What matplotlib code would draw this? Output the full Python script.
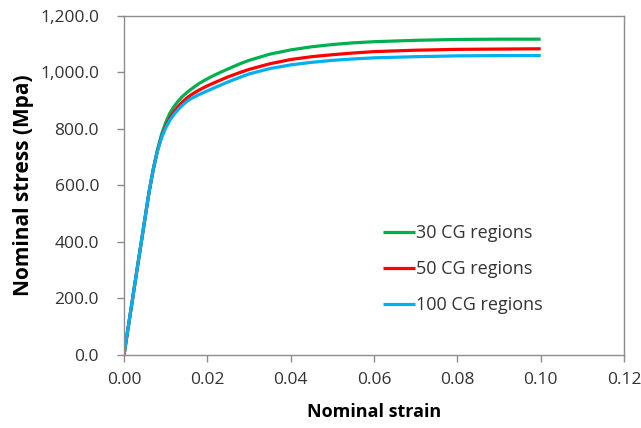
import matplotlib
matplotlib.use("Agg")
import matplotlib.pyplot as plt
from matplotlib.ticker import FuncFormatter

strain = [0.000, 0.001, 0.002, 0.003, 0.004, 0.005, 0.006, 0.007, 0.008, 0.009,
          0.010, 0.011, 0.012, 0.013, 0.014, 0.015, 0.016, 0.018, 0.020, 0.022,
          0.025, 0.028, 0.030, 0.035, 0.040, 0.045, 0.050, 0.055, 0.060, 0.070,
          0.080, 0.090, 0.100]
stress_30 = [0, 97, 193, 290, 385, 480, 575, 655, 724, 780,
             822, 855, 879, 898, 914, 927, 939, 960, 977, 992,
             1012, 1031, 1042, 1064, 1079, 1090, 1098, 1104, 1108, 1113,
             1116, 1117, 1117]
stress_50 = [0, 97, 193, 290, 385, 480, 575, 655, 721, 771,
             808, 837, 860, 879, 895, 908, 919, 937, 952, 965,
             984, 1000, 1010, 1030, 1045, 1055, 1062, 1068, 1073, 1078,
             1081, 1082, 1083]
stress_100 = [0, 97, 193, 290, 385, 480, 575, 655, 720, 768,
              803, 830, 851, 868, 883, 896, 906, 921, 934, 947,
              966, 983, 994, 1013, 1026, 1035, 1042, 1047, 1051, 1055,
              1058, 1059, 1059]
labels = ["30 CG regions", "50 CG regions", "100 CG regions"]
colors = ["#00B050", "#FF0000", "#00B0F0"]

plt.rcParams['font.family'] = ['Open Sans', 'DejaVu Sans']

fig = plt.figure(figsize=(6.41, 4.28), dpi=100)
ax = fig.add_axes([124/641, (428-355)/428, 500/641, (355-15.7)/428])

for y, lab, c in zip([stress_30, stress_50, stress_100], labels, colors):
    ax.plot(strain, y, color=c, lw=2.3, label=lab, solid_capstyle='butt',
            solid_joinstyle='round')

ax.set_xlim(0, 0.12)
ax.set_ylim(0, 1200)
ax.set_xticks([0, 0.02, 0.04, 0.06, 0.08, 0.10, 0.12])
ax.set_yticks(range(0, 1201, 200))
ax.xaxis.set_major_formatter(FuncFormatter(lambda v, p: f"{v:.2f}"))
ax.yaxis.set_major_formatter(FuncFormatter(lambda v, p: f"{v:,.1f}"))

for s in ax.spines.values():
    s.set_color("#8c8c8c")
    s.set_linewidth(1.0)
ax.tick_params(axis='both', direction='out', length=5, width=1.0,
               color="#8c8c8c", labelcolor="#333333", labelsize=12.5)
ax.tick_params(axis='x', pad=7)
ax.tick_params(axis='y', pad=13)

ax.set_xlabel("Nominal strain", fontsize=13, fontweight='bold', color='#000000', labelpad=11)
ax.set_ylabel("Nominal stress (Mpa)", fontsize=15, fontweight='bold', color='#000000', labelpad=4)

leg = ax.legend(loc='upper left', bbox_to_anchor=(383/641, (428-224)/428),
                bbox_transform=fig.transFigure, frameon=False, fontsize=13,
                handlelength=1.75, handletextpad=0.05, labelspacing=1.0,
                borderaxespad=0, borderpad=0)
for t in leg.get_texts():
    t.set_color("#333333")

fig.savefig("out.png", dpi=100)
